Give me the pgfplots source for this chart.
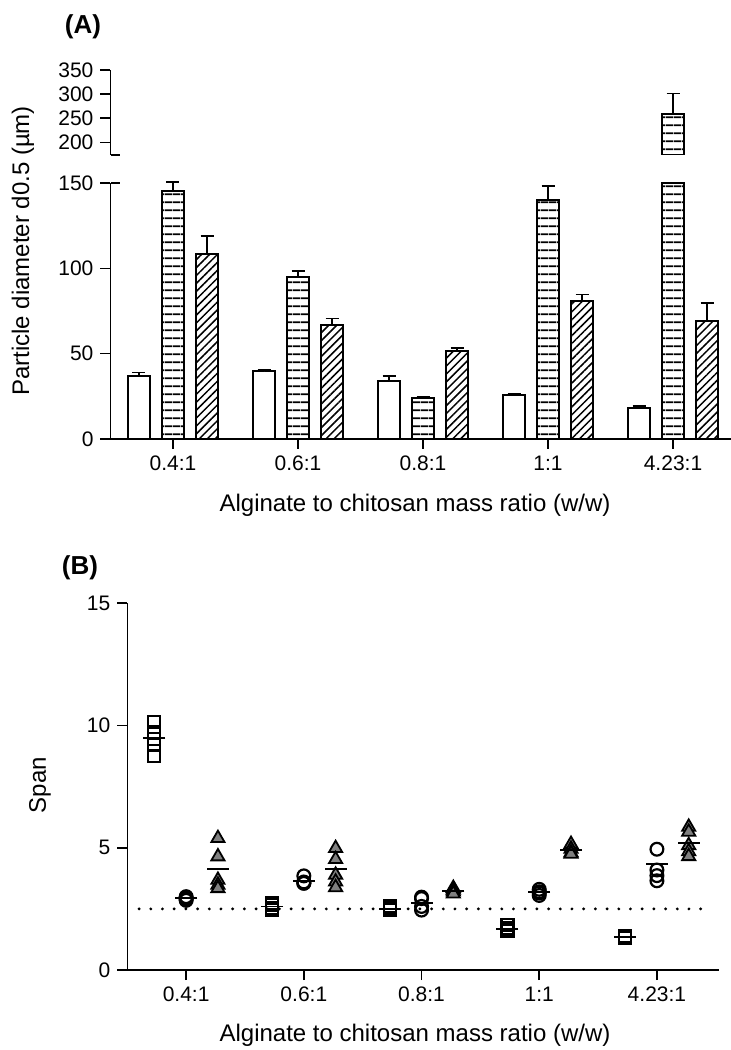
\documentclass[border=0pt]{standalone}
\usepackage{fontspec}
\setmainfont{Liberation Sans}
\usepackage{pgfplots}
\pgfplotsset{compat=1.18}
\usetikzlibrary{patterns.meta}
\definecolor{trigray}{RGB}{128,128,128}

\pgfplotstableread{
x y
-0.27 10.15
-0.27 9.75
-0.27 9.45
-0.27 9.2
-0.27 8.75
0.73 2.75
0.73 2.65
0.73 2.55
0.73 2.45
1.73 2.6
1.73 2.55
1.73 2.45
1.73 2.45
2.73 1.85
2.73 1.7
2.73 1.6
2.73 1.58
3.73 1.4
3.73 1.35
3.73 1.33
3.73 1.32
}\squares
\pgfplotstableread{
x y
0 2.85
0 2.9
0 2.95
0 3.0
1 3.85
1 3.55
1 3.55
1 3.6
2 2.98
2 2.92
2 2.6
2 2.45
3 3.3
3 3.2
3 3.15
3 3.05
4 4.94
4 4.09
4 3.86
4 3.65
}\circles
\pgfplotstableread{
x y
0.27 5.39
0.27 4.64
0.27 3.68
0.27 3.48
0.27 3.34
1.27 4.98
1.27 4.53
1.27 3.89
1.27 3.61
1.27 3.38
2.27 3.35
2.27 3.28
2.27 3.2
2.27 3.12
3.27 5.15
3.27 4.95
3.27 4.8
3.27 4.75
4.27 5.85
4.27 5.65
4.27 5.1
4.27 4.85
4.27 4.65
}\triangles
\pgfplotstableread{
x y
-0.27 9.48
0 2.93
0.27 4.13
0.73 2.6
1 3.65
1.27 4.13
1.73 2.51
2 2.75
2.27 3.24
2.73 1.68
3 3.2
3.27 4.91
3.73 1.36
4 4.34
4.27 5.21
}\means

\begin{document}
\begin{tikzpicture}
\useasboundingbox (0pt,0pt) rectangle (365.5pt,525pt);
\pgfplotsset{
  common/.style={
    scale only axis,
    anchor=south west,
    axis line style={-, line width=0.8pt},
    every tick/.style={black, line width=0.8pt},
    major tick length=5pt,
    tick align=outside,
    tick label style={font=\fontsize{10.5}{12}\selectfont},
    /pgf/number format/assume math mode=true,
  },
  errs/.style={error bars/.cd, y dir=plus, y explicit,
    error bar style={line width=0.9pt, solid},
    error mark options={rotate=90, mark size=3.25pt, line width=0.9pt, solid}},
  hpat/.style={draw=black, line width=1pt, pattern={Lines[angle=0,distance=3.85pt,line width=0.9pt]}},
  dpat/.style={draw=black, line width=1pt, pattern={Lines[angle=45,distance=2.8pt,line width=0.75pt]}},
}
% ---------- Panel A, lower part ----------
\begin{axis}[common,
  at={(55.25pt,305.5pt)}, width=310.25pt, height=128pt,
  xmin=-0.5, xmax=4.464, ymin=0, ymax=150,
  axis x line*=bottom, axis y line*=left,
  xtick={0,1,2,3,4}, xticklabels={0.4:1,0.6:1,0.8:1,1:1,4.23:1},
  ytick={0,50,100,150},
  ybar, bar width=0.176, clip=false,
]
\addplot[draw=black, line width=1pt, fill=white, bar shift=-0.272, errs]
  coordinates {(0,37.0) +- (0,2.0) (1,39.6) +- (0,0.6) (2,33.9) +- (0,3.0) (3,25.9) +- (0,0.7) (4,18.4) +- (0,0.8)};
\addplot[hpat, bar shift=0, errs]
  coordinates {(0,145.5) +- (0,4.9) (1,95.1) +- (0,3.3) (2,23.9) +- (0,0.6) (3,140.0) +- (0,8.4)};
\addplot[hpat, bar shift=0]
  coordinates {(4,150)};
\addplot[dpat, bar shift=0.272, errs]
  coordinates {(0,108.6) +- (0,10.2) (1,66.5) +- (0,4.1) (2,51.4) +- (0,1.9) (3,80.8) +- (0,3.9) (4,69.0) +- (0,10.8)};
\end{axis}
% ---------- Panel A, upper part ----------
\begin{axis}[common,
  at={(55.25pt,447.5pt)}, width=310.25pt, height=42.5pt,
  xmin=-0.5, xmax=4.464, ymin=174, ymax=350,
  axis x line=none, axis y line*=left,
  ytick={200,250,300,350},
  ybar, bar width=0.176,
]
\addplot[hpat, bar shift=0, errs]
  coordinates {(4,259.8) +- (0,41.6)};
\end{axis}
\draw[line width=0.8pt] (55.25pt,447.5pt) -- ++(4.5pt,0pt);
\draw[line width=0.8pt] (55.25pt,433.5pt) -- ++(4.5pt,0pt);
% ---------- Panel B ----------
\begin{axis}[common,
  at={(63.65pt,40pt)}, width=296pt, height=183.35pt,
  xmin=-0.5, xmax=4.53, ymin=0, ymax=15,
  axis x line*=bottom, axis y line*=left,
  xtick={0,1,2,3,4}, xticklabels={0.4:1,0.6:1,0.8:1,1:1,4.23:1},
  ytick={0,5,10,15},
  clip=false,
]
\addplot[line width=1.6pt, dash pattern=on 0pt off 5.85pt, line cap=round]
  coordinates {(-0.4,2.5) (4.43,2.5)};
\addplot[only marks, mark=square, mark size=3pt, mark options={draw=black, line width=1.1pt}] table {\squares};
\addplot[only marks, mark=o, mark size=3.2pt, mark options={draw=black, line width=1.1pt}] table {\circles};
\addplot[only marks, mark=triangle*, mark size=3.8pt, mark options={draw=black, fill=trigray, line width=0.9pt}] table {\triangles};
\addplot[only marks, mark=-, mark size=5.5pt, mark options={draw=black, line width=0.9pt}] table {\means};
\end{axis}
% ---------- Texts ----------
\node[font=\fontsize{13}{15}\selectfont\bfseries] at (41.5pt,511.5pt) {(A)};
\node[font=\fontsize{13}{15}\selectfont\bfseries] at (40pt,241pt) {(B)};
\node[font=\fontsize{12}{14}\selectfont, rotate=90] at (11.5pt,399.5pt) {Particle diameter d0.5 (µm)};
\node[font=\fontsize{12}{14}\selectfont] at (207.5pt,272.5pt) {Alginate to chitosan mass ratio (w/w)};
\node[font=\fontsize{12}{14}\selectfont, rotate=90] at (20pt,132.5pt) {Span};
\node[font=\fontsize{12}{14}\selectfont] at (207.5pt,7.5pt) {Alginate to chitosan mass ratio (w/w)};
\end{tikzpicture}
\end{document}
